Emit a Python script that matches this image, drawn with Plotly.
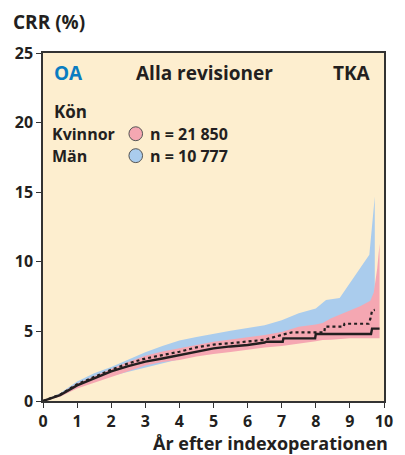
import plotly.graph_objects as go

# Kvinnor (women): solid line + pink band
women_t = [0, 0.5, 1.0, 1.5, 2.0, 2.5, 3.0, 3.5, 4.0, 4.5, 5.0, 5.5, 6.0, 6.5,
           6.55, 7.03, 7.05, 7.98, 8.0, 9.62, 9.65, 9.87]
women_crr = [0, 0.42, 1.12, 1.65, 2.13, 2.5, 2.83, 3.05, 3.3, 3.55, 3.78, 3.92, 4.02, 4.2,
             4.26, 4.26, 4.5, 4.5, 4.81, 4.81, 5.2, 5.2]

women_band_t = [0, 0.5, 1.0, 1.5, 2.0, 2.5, 3.0, 3.5, 4.0, 4.5, 5.0, 5.5, 6.0, 6.5,
                7.0, 7.5, 8.0, 8.2, 8.45, 9.0, 9.3, 9.6, 9.7, 9.8, 9.87]
women_lo = [0, 0.3, 0.9, 1.35, 1.75, 2.15, 2.55, 2.8, 2.95, 3.2, 3.38, 3.52, 3.66, 3.85,
            3.95, 4.14, 4.3, 4.38, 4.4, 4.5, 4.5, 4.5, 4.5, 4.5, 4.5]
women_hi = [0, 0.5, 1.25, 1.8, 2.3, 2.8, 3.25, 3.55, 3.78, 4.05, 4.26, 4.42, 4.57, 4.75,
            4.95, 5.34, 5.5, 5.6, 5.95, 6.5, 6.8, 7.2, 7.8, 9.5, 11.3]

# Män (men): dotted line + blue band
men_t = [0, 0.5, 1.0, 1.5, 2.0, 2.5, 3.0, 3.5, 4.0, 4.5, 5.0, 5.5, 6.0, 6.5, 7.0, 7.3,
         8.25, 8.27, 8.82, 8.84, 9.55, 9.6, 9.65, 9.73]
men_crr = [0, 0.45, 1.2, 1.75, 2.25, 2.7, 3.05, 3.3, 3.54, 3.85, 4.05, 4.15, 4.26, 4.4,
           4.75, 4.93, 4.93, 5.34, 5.34, 5.55, 5.55, 5.9, 6.5, 6.55]

men_band_t = [0, 0.5, 1.0, 1.5, 2.0, 2.5, 3.0, 3.5, 4.0, 4.5, 5.0, 5.5, 6.0, 6.5,
              7.0, 7.5, 8.0, 8.3, 8.7, 8.9, 9.1, 9.3, 9.57, 9.73]
men_lo = [0, 0.35, 0.95, 1.4, 1.8, 2.1, 2.4, 2.75, 3.0, 3.3, 3.5, 3.7, 3.8, 4.0,
          4.15, 4.3, 4.45, 4.5, 4.55, 4.6, 4.65, 4.7, 4.75, 4.8]
men_hi = [0, 0.55, 1.4, 2.0, 2.45, 3.0, 3.5, 3.95, 4.35, 4.6, 4.85, 5.05, 5.25, 5.45,
          5.8, 6.3, 6.65, 7.25, 7.4, 8.1, 8.8, 9.5, 10.5, 14.7]

x_ticks = list(range(0, 11))
y_ticks = [0, 5, 10, 15, 20, 25]

BG = "#fdeecf"
PINK = "#f5a7b2"
BLUE = "#aacced"
INK = "#231f20"
FONT = "Open Sans"

fig = go.Figure()

# blue band (men) underneath
fig.add_trace(go.Scatter(x=men_band_t + men_band_t[::-1], y=men_hi + men_lo[::-1],
                         fill="toself", fillcolor=BLUE, line=dict(width=0),
                         mode="lines", hoverinfo="skip", showlegend=False))
# pink band (women) on top
fig.add_trace(go.Scatter(x=women_band_t + women_band_t[::-1], y=women_hi + women_lo[::-1],
                         fill="toself", fillcolor=PINK, line=dict(width=0),
                         mode="lines", hoverinfo="skip", showlegend=False))
fig.add_trace(go.Scatter(x=men_t, y=men_crr, mode="lines",
                         line=dict(color=INK, width=2.2, dash="dot"), showlegend=False))
fig.add_trace(go.Scatter(x=women_t, y=women_crr, mode="lines",
                         line=dict(color=INK, width=2.4), showlegend=False))

def txt(text, x, y, size, color=INK, xanchor="left"):
    fig.add_annotation(text=f"<b>{text}</b>", x=x, y=y, xref="paper", yref="paper",
                       xanchor=xanchor, yanchor="middle", showarrow=False,
                       borderpad=0, font=dict(family=FONT, size=size, color=color))

txt("CRR (%)", -0.09, 1.088, 19)
txt("År efter indexoperationen", 1.015, -0.122, 18, xanchor="right")
txt("OA", 0.03, 0.943, 19, color="#0a7cc1")
txt("Alla revisioner", 0.474, 0.943, 19, xanchor="center")
txt("TKA", 0.965, 0.943, 19, xanchor="right")
txt("Kön", 0.03, 0.833, 17)
txt("Kvinnor", 0.022, 0.768, 16)
txt("Män", 0.022, 0.705, 16)
txt("n = 21 850", 0.31, 0.768, 16)
txt("n = 10 777", 0.31, 0.705, 16)

for yc, col in [(0.768, PINK), (0.705, BLUE)]:
    fig.add_shape(type="circle", xref="paper", yref="paper",
                  x0=0.272 - 0.02, x1=0.272 + 0.02, y0=yc - 0.02, y1=yc + 0.02,
                  fillcolor=col, line=dict(color="#555555", width=1))

axis_common = dict(showline=True, linecolor="#333333", linewidth=1.5, mirror=True,
                   ticks="outside", ticklen=5, tickcolor="#333333", showgrid=False,
                   zeroline=False, tickfont=dict(family=FONT, size=16, color=INK))

fig.update_layout(
    width=405, height=455,
    margin=dict(l=43, r=14, t=53, b=54),
    paper_bgcolor="white", plot_bgcolor=BG,
    xaxis=dict(range=[0, 10], tickvals=x_ticks,
               ticktext=[f"<b>{v}</b>" for v in x_ticks], **axis_common),
    yaxis=dict(range=[0, 25], tickvals=y_ticks,
               ticktext=[f"<b>{v}</b>" for v in y_ticks], **axis_common),
)

fig.write_html("out.html", config={"displayModeBar": False},
               post_script="document.body.style.margin='0';")
